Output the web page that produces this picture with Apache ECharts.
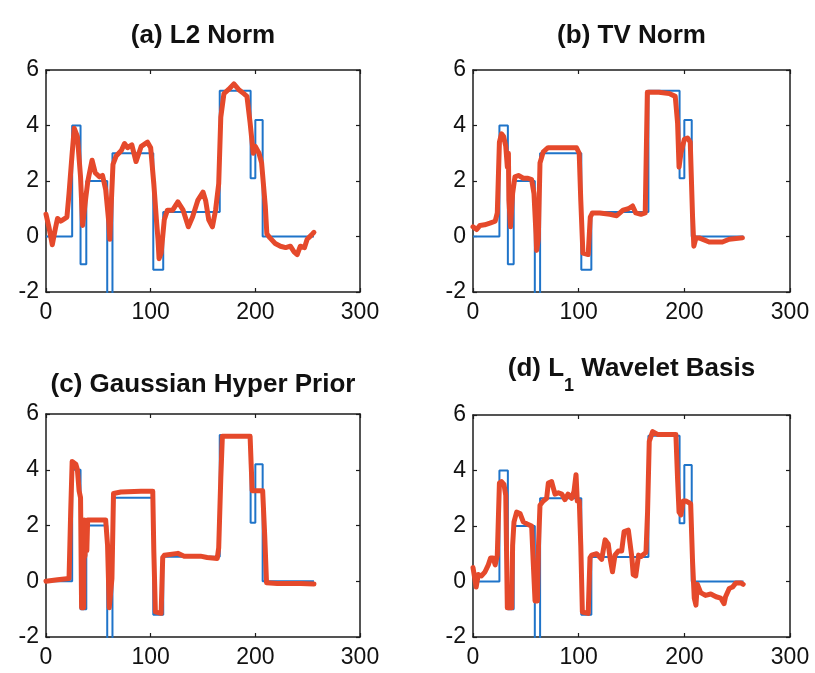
<!DOCTYPE html>
<html>
<head>
<meta charset="utf-8">
<script src="https://cdn.jsdelivr.net/npm/echarts@6/dist/echarts.min.js"></script>
<style>
html,body{margin:0;padding:0;background:#fff;}
#chart{width:815px;height:673px;}
</style>
</head>
<body>
<div id="chart"></div>
<script>
// ---- data ----
var panelTitles = ['(a) L2 Norm', '(b) TV Norm', '(c) Gaussian Hyper Prior', '(d) L1 Wavelet Basis'];
var xTicks = [0, 100, 200, 300];
var yTicks = [-2, 0, 2, 4, 6];

// true piecewise-constant signal: value holds from x[i] until x[i+1]
var truthX = [0, 25, 33, 38.5, 58.5, 63.5, 102.5, 112, 166, 195.5, 200, 207, 256];
var truthY = [0, 4, -1, 2, -3, 3, -1.2, 0.88, 5.25, 2.1, 4.2, 0, 0];

var redA = [[0,0.8],[3,0.3],[6,-0.3],[9,0.3],[11,0.65],[14,0.55],[16,0.6],[20,0.7],[22,1.55],[25,3.0],[27,3.9],[30,3.6],[33,2.15],[35,0.4],[38,1.4],[40,2.0],[44,2.75],[47,2.3],[51,2.15],[54,2.2],[57,1.7],[60,0.5],[61,-0.1],[62.5,1.3],[64,2.6],[67,2.9],[72,3.1],[75,3.35],[78,3.2],[82,3.3],[86,2.7],[91,3.25],[97,3.4],[100,3.2],[103,1.9],[105.5,0.6],[107,-0.1],[108,-0.8],[110,-0.6],[113,0.6],[116,0.95],[121,0.95],[126,1.25],[131,0.95],[136,0.35],[140,0.7],[145,1.3],[150,1.6],[152.5,1.3],[155.5,0.6],[159,0.35],[162,0.95],[165,1.9],[167,4.3],[170,5.15],[174.5,5.3],[179.5,5.5],[184,5.3],[189,5.15],[192,5.05],[195,4.1],[198,3.0],[200,3.25],[203.5,3.0],[206,2.65],[209.5,1.1],[211,0.1],[214,-0.05],[219,-0.25],[224,-0.35],[229,-0.4],[233.5,-0.35],[237,-0.55],[240,-0.65],[243,-0.35],[247,-0.4],[249.5,-0.1],[253.5,0.05],[256,0.15]];

var redB = [[0,0.35],[3.5,0.25],[6.6,0.4],[11,0.42],[16,0.48],[21,0.55],[23,0.85],[25,3.4],[27,3.7],[29,3.6],[31,3.25],[32.5,2.5],[33.5,3.0],[34,1.3],[35.5,0.35],[37.5,1.55],[39.7,2.15],[43,2.2],[47.6,2.1],[52,2.1],[55.5,2.05],[57.7,1.55],[59.6,0.1],[60.2,-0.5],[61.8,-0.1],[63.4,2.65],[66.5,3.05],[71,3.2],[79,3.2],[88.5,3.2],[98,3.2],[100.5,3.0],[102,1.3],[104,-0.6],[109,-0.65],[111,0.7],[113,0.85],[120,0.85],[129.5,0.8],[136,0.75],[142,0.95],[147,1.0],[151,1.1],[154,0.85],[159,0.8],[163,0.85],[165,5.2],[168.4,5.2],[176,5.2],[185.7,5.15],[191.4,5.05],[193.6,4.1],[195,2.5],[196.8,3.0],[200,3.5],[203,3.55],[205.6,3.4],[207.8,0.7],[209,-0.35],[211,-0.05],[214,-0.05],[223.5,-0.2],[236,-0.2],[242.5,-0.1],[255,-0.05]];

var redC = [[0,0],[11,0.05],[22,0.1],[23.6,2.5],[25,4.3],[28.5,4.2],[30,4.0],[31.6,3.25],[33,3.0],[34,-0.95],[36,-0.95],[36.5,2.2],[37.3,0.9],[38.2,2.1],[39,1.1],[39.8,2.2],[46,2.2],[57,2.2],[58.8,1.3],[60.4,-0.95],[61.5,-0.9],[63,0.1],[64.5,3.15],[71.5,3.2],[90.7,3.23],[102,3.23],[103,1.1],[104.5,-1.1],[110,-1.15],[111.5,0.85],[113,0.93],[126,1.0],[132,0.9],[147.6,0.9],[154,0.85],[163.6,0.82],[165,1.2],[167,3.7],[168.5,5.2],[179.6,5.2],[195,5.2],[196,4.2],[197,3.25],[200,3.25],[207,3.25],[209,1.6],[210.7,-0.05],[221,-0.08],[243.5,-0.08],[256,-0.1]];

var redD = [[0,0.5],[1,0.5],[3,-0.2],[5,0.25],[8,0.2],[11.4,0.35],[14.5,0.6],[16.7,0.85],[19,0.85],[21,0.6],[23,0.95],[25,3.55],[27,3.6],[29.3,3.5],[31,3.1],[32.5,-0.95],[36.6,-0.95],[37.5,1.3],[38.8,2.15],[41.3,2.5],[44.5,2.45],[47.6,2.15],[52.4,2.05],[55.5,2.0],[57,0.7],[58.7,-0.7],[61,-0.7],[62,1.3],[63.4,2.75],[66.5,2.9],[69.7,3.0],[71.3,3.55],[74.4,3.6],[77.6,3.15],[80.8,3.2],[84,3.15],[87,2.95],[90,3.15],[93.4,3.0],[95.6,3.25],[97.5,3.85],[98.7,2.9],[100.6,2.9],[102,1.3],[103.5,-1.1],[109,-1.15],[110.7,0.85],[112.3,0.95],[117,1.0],[121.8,0.8],[125,1.5],[128,1.35],[129.7,0.85],[132,0.35],[134.4,0.95],[137.5,1.1],[140.7,1.1],[143,1.8],[147,1.85],[148.5,1.9],[150.4,0.85],[151.6,0.25],[154,0.2],[156.7,0.95],[159,0.9],[163.7,1.05],[165.2,2.5],[166.8,5.05],[170,5.4],[174.7,5.3],[179.5,5.3],[185.7,5.3],[192,5.3],[193.6,3.7],[195,2.5],[196.8,2.4],[199,2.9],[201.5,2.9],[204,2.85],[206,2.8],[207.8,0.7],[209.4,-0.6],[211,-0.85],[212.3,-0.1],[215.5,-0.4],[220,-0.5],[225,-0.45],[230,-0.55],[234.5,-0.6],[237.6,-0.8],[239,-0.55],[242.5,-0.25],[245.6,-0.2],[248.8,-0.05],[253.5,-0.05],[255.7,-0.1]];

var reconstructions = [redA, redB, redC, redD];

// ---- layout / style ----
var grids = [
  {left: 46, top: 70, width: 314, height: 222},
  {left: 473, top: 70, width: 317, height: 222},
  {left: 46, top: 414, width: 314, height: 223},
  {left: 473, top: 415, width: 317, height: 222}
];
var titleTops = [21, 21, 370, 356];
var FONT = '"Liberation Sans", Arial, sans-serif';
var frameColor = '#1c1c1c';
var blue = '#1f74c9';
var red = '#e5492b';

var truthData = truthX.map(function (x, i) { return [x, truthY[i]]; });

var option = {
  backgroundColor: '#ffffff',
  animation: false,
  title: [],
  grid: [],
  xAxis: [],
  yAxis: [],
  series: []
};

function axisCommon(showLabels, isX) {
  return {
    type: 'value',
    min: isX ? xTicks[0] : yTicks[0],
    max: isX ? xTicks[xTicks.length - 1] : yTicks[yTicks.length - 1],
    interval: isX ? (xTicks[1] - xTicks[0]) : (yTicks[1] - yTicks[0]),
    axisLine: {show: true, onZero: false, lineStyle: {color: frameColor, width: 1.5}},
    axisTick: {show: true, inside: true, length: 4, lineStyle: {color: frameColor, width: 1.2}},
    splitLine: {show: false},
    axisLabel: {
      show: showLabels,
      showMinLabel: true,
      showMaxLabel: true,
      color: '#111',
      fontSize: 23,
      fontFamily: FONT,
      margin: isX ? 9 : 7
    }
  };
}

grids.forEach(function (g, i) {
  option.grid.push({left: g.left, top: g.top, width: g.width, height: g.height, containLabel: false});
  var cx = g.left + g.width / 2;
  var t;
  if (i === 3) {
    t = {
      text: '{b|(d) L}{s|1}{b| Wavelet Basis}',
      left: cx, top: titleTops[i], textAlign: 'center',
      textStyle: {
        rich: {
          b: {fontSize: 26, fontWeight: 'bold', fontFamily: FONT, color: '#111', lineHeight: 30, verticalAlign: 'top'},
          s: {fontSize: 18, fontWeight: 'bold', fontFamily: FONT, color: '#111', lineHeight: 18, padding: [21, 0, 0, 0], verticalAlign: 'top'}
        }
      }
    };
  } else {
    t = {
      text: panelTitles[i],
      left: cx, top: titleTops[i], textAlign: 'center',
      textStyle: {fontSize: 26, fontWeight: 'bold', fontFamily: FONT, color: '#111', lineHeight: 30}
    };
  }
  t.padding = 0;
  option.title.push(t);

  var xb = axisCommon(true, true); xb.gridIndex = i; xb.position = 'bottom';
  var xt = axisCommon(false, true); xt.gridIndex = i; xt.position = 'top';
  var yl = axisCommon(true, false); yl.gridIndex = i; yl.position = 'left';
  var yr = axisCommon(false, false); yr.gridIndex = i; yr.position = 'right';
  option.xAxis.push(xb, xt);
  option.yAxis.push(yl, yr);

  option.series.push({
    type: 'line',
    xAxisIndex: i * 2, yAxisIndex: i * 2,
    data: truthData,
    step: 'end',
    showSymbol: false, symbol: 'none',
    clip: true,
    lineStyle: {color: blue, width: 2},
    z: 2
  });
  option.series.push({
    type: 'line',
    xAxisIndex: i * 2, yAxisIndex: i * 2,
    data: reconstructions[i],
    showSymbol: false, symbol: 'none',
    clip: true,
    lineStyle: {color: red, width: 5, join: 'round', cap: 'round'},
    z: 3
  });
});

var chart = echarts.init(document.getElementById('chart'), null, {renderer: 'canvas'});
chart.setOption(option);
</script>
</body>
</html>
